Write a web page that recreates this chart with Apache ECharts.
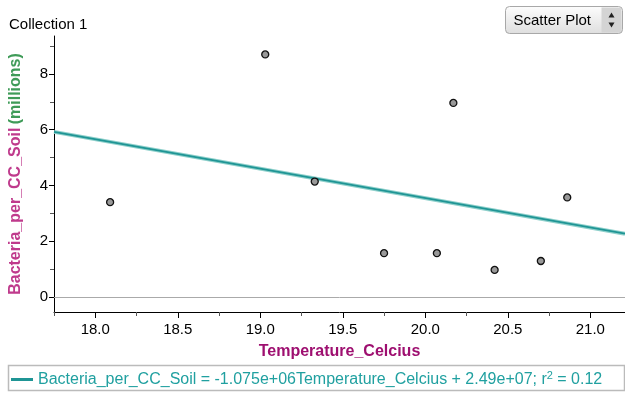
<!DOCTYPE html>
<html>
<head>
<meta charset="utf-8">
<script src="https://cdn.jsdelivr.net/npm/echarts@6/dist/echarts.min.js"></script>
<style>
  html, body { margin: 0; padding: 0; background: #fff; }
  #main { width: 625px; height: 393px; }
</style>
</head>
<body>
<div id="main"></div>
<script>
// temperature (°C) and bacteria per cc soil (millions)
const temps = [18.09, 19.03, 19.33, 20.17, 19.75, 20.07, 20.42, 20.70, 20.86];
const bacteria = [3.40, 8.70, 4.14, 6.96, 1.57, 1.57, 0.97, 1.29, 3.57];
// least squares line, read at the plot edges
const fitX = [17.75, 21.21];
const fitY = [5.92, 2.27];
// tick labels
const xMajor = [18.0, 18.5, 19.0, 19.5, 20.0, 20.5, 21.0];
const xMinor = [17.75, 18.25, 18.75, 19.25, 19.75, 20.25, 20.75];
const yMajor = [0, 2, 4, 6, 8];
const yMinor = [1, 3, 5, 7, 9];

const FONT = '"Liberation Sans", Arial, sans-serif';
const TEAL = '#1f9595';

const chartDom = document.getElementById('main');
const myChart = echarts.init(chartDom);

const points = temps.map((t, i) => [t, bacteria[i]]);
const fitLine = fitX.map((x, i) => [x, fitY[i]]);

const option = {
  animation: false,
  textStyle: { fontFamily: FONT },
  title: {
    text: 'Collection 1',
    left: 4, top: 12,
    textStyle: { fontSize: 15, fontWeight: 'normal', color: '#000', fontFamily: FONT }
  },
  grid: { left: 48, top: 36, right: 0, bottom: 81 },
  legend: {
    left: 6, top: 365,
    itemWidth: 22, itemHeight: 3,
    itemGap: 0,
    icon: 'rect',
    data: [{ name: 'Bacteria_per_CC_Soil', itemStyle: { color: TEAL } }],
    formatter: () => '{a|Bacteria_per_CC_Soil = -1.075e+06Temperature_Celcius + 2.49e+07; r}{s|2}{a| = 0.12}',
    textStyle: {
      rich: {
        a: { fontSize: 16, color: '#20a0a0', fontFamily: FONT },
        s: { fontSize: 11, color: '#20a0a0', fontFamily: FONT, padding: [0, 0, 8, 0] }
      }
    }
  },
  xAxis: [{
    type: 'value',
    min: 17.75, max: 21.21,
    name: 'Temperature_Celcius',
    nameLocation: 'middle',
    nameGap: 32,
    nameTextStyle: { color: '#9e0f70', fontWeight: 'bold', fontSize: 16, fontFamily: FONT },
    axisLine: { onZero: false, lineStyle: { color: '#000', width: 1 } },
    axisTick: { show: true, length: 6, customValues: xMajor, lineStyle: { color: '#000' } },
    axisLabel: {
      customValues: xMajor,
      formatter: v => v.toFixed(1),
      fontSize: 15, color: '#000', margin: 10
    },
    splitLine: { show: false }
  }, {
    type: 'value',
    position: 'bottom',
    min: 17.75, max: 21.21,
    axisLine: { show: false, onZero: false },
    axisTick: { show: true, length: 4, customValues: xMinor, lineStyle: { color: '#555' } },
    axisLabel: { show: false },
    splitLine: { show: false }
  }],
  yAxis: [{
    type: 'value',
    min: -0.54, max: 9.36,
    name: '{a|Bacteria_per_CC_Soil} {b|(millions)}',
    nameLocation: 'middle',
    nameGap: 30,
    nameTextStyle: {
      rich: {
        a: { color: '#bf3a8c', fontWeight: 'bold', fontSize: 16, fontFamily: FONT },
        b: { color: '#3f9b58', fontWeight: 'bold', fontSize: 16, fontFamily: FONT }
      }
    },
    axisLine: { onZero: false, lineStyle: { color: '#000', width: 1 } },
    axisTick: { show: true, length: 5, customValues: yMajor, lineStyle: { color: '#000' } },
    axisLabel: { customValues: yMajor, fontSize: 15, color: '#000', margin: 6 },
    splitLine: { show: false }
  }, {
    type: 'value',
    position: 'left',
    min: -0.54, max: 9.36,
    axisLine: { show: false, onZero: false },
    axisTick: { show: true, length: 4, customValues: yMinor, lineStyle: { color: '#555' } },
    axisLabel: { show: false },
    splitLine: { show: false }
  }],
  series: [
    {
      name: 'zero',
      type: 'line',
      data: [],
      markLine: {
        silent: true,
        symbol: 'none',
        label: { show: false },
        lineStyle: { color: '#aaa', width: 1, type: 'solid' },
        data: [{ yAxis: 0 }]
      }
    },
    {
      name: 'halo',
      type: 'line',
      data: fitLine,
      showSymbol: false,
      lineStyle: { color: '#8fd0cb', width: 4 },
      z: 2
    },
    {
      name: 'Bacteria_per_CC_Soil',
      type: 'line',
      data: fitLine,
      showSymbol: false,
      lineStyle: { color: TEAL, width: 1.6 },
      itemStyle: { color: TEAL },
      z: 3
    },
    {
      name: 'points',
      type: 'scatter',
      data: points,
      symbol: 'circle',
      symbolSize: 7,
      itemStyle: { color: '#999', borderColor: '#111', borderWidth: 1.3, opacity: 1 },
      z: 4
    }
  ],
  graphic: [
    {
      type: 'rect',
      shape: { x: 8.5, y: 365.5, width: 616, height: 25 },
      style: { fill: 'none', stroke: '#bbb', lineWidth: 1.5 },
      silent: true
    },
    {
      type: 'group',
      left: 505, top: 6,
      children: [
        {
          type: 'rect',
          shape: { x: 0, y: 0, width: 117, height: 27, r: 4 },
          style: {
            fill: new echarts.graphic.LinearGradient(0, 0, 0, 1, [
              { offset: 0, color: '#fdfdfd' },
              { offset: 1, color: '#dedede' }
            ]),
            stroke: '#a8a8a8', lineWidth: 1
          }
        },
        {
          type: 'rect',
          shape: { x: 96, y: 1, width: 20, height: 25, r: [0, 3, 3, 0] },
          style: { fill: '#d4d4d4' }
        },
        {
          type: 'text',
          style: { x: 8, y: 14, text: 'Scatter Plot', fontSize: 15, fill: '#000', fontFamily: FONT, verticalAlign: 'middle' }
        },
        {
          type: 'polygon',
          shape: { points: [[103, 11], [109, 11], [106, 6]] },
          style: { fill: '#222' }
        },
        {
          type: 'polygon',
          shape: { points: [[103, 16], [109, 16], [106, 21]] },
          style: { fill: '#222' }
        }
      ]
    }
  ]
};

option && myChart.setOption(option);
</script>
</body>
</html>
